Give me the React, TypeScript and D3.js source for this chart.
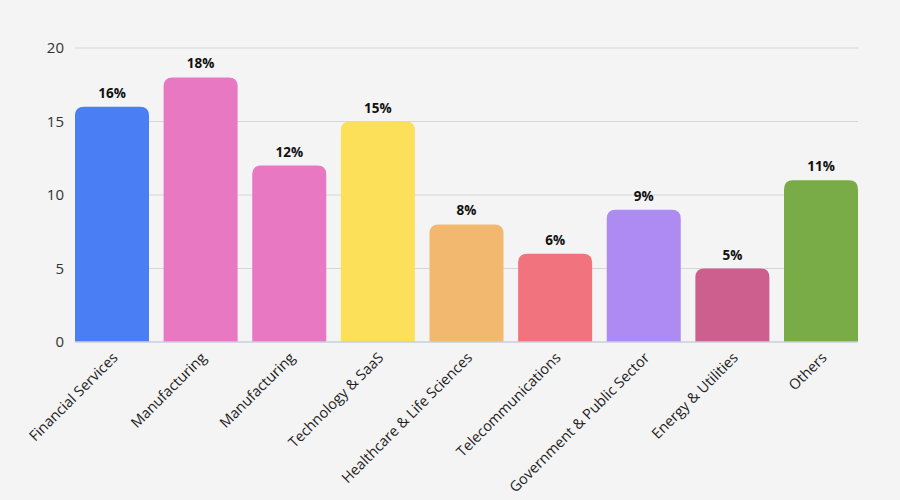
import React from "react";
import * as d3 from "d3";

const categories = [
  "Financial Services",
  "Manufacturing",
  "Manufacturing",
  "Technology & SaaS",
  "Healthcare & Life Sciences",
  "Telecommunications",
  "Government & Public Sector",
  "Energy & Utilities",
  "Others",
];
const values = [16, 18, 12, 15, 8, 6, 9, 5, 11];
const colors = ["#4a7ef4", "#e878c2", "#e878c2", "#fde05a", "#f2b870", "#f0737e", "#ad8bf2", "#cd5f8e", "#79ab47"];
const yTicks = [0, 5, 10, 15, 20];

const W = 900;
const H = 500;
const left = 75;
const right = 858;
const top = 48;
const bottom = 342;

export default function App() {
  const x = d3.scaleBand<number>().domain(d3.range(categories.length)).range([left, right]).paddingInner(0.165).paddingOuter(0);
  const y = d3.scaleLinear().domain([0, 20]).range([bottom, top]);
  const bw = x.bandwidth();
  const r = 9;
  const font = "'Open Sans', 'Noto Sans', sans-serif";

  const barPath = (x0: number, y0: number, w: number, h: number) => {
    const rr = Math.min(r, h, w / 2);
    return `M${x0},${y0 + h}V${y0 + rr}Q${x0},${y0} ${x0 + rr},${y0}H${x0 + w - rr}Q${x0 + w},${y0} ${x0 + w},${y0 + rr}V${y0 + h}Z`;
  };

  return (
    <svg width={W} height={H} style={{ position: "absolute", left: 0, top: 0, display: "block" }}>
      <rect x={0} y={0} width={W} height={H} fill="#f4f4f4" />
      {yTicks.map((t) => (
        <g key={t}>
          {t > 0 && <line x1={left} x2={right} y1={y(t)} y2={y(t)} stroke="#d6d6d6" strokeWidth={1} />}
          <text x={64} y={y(t)} dy="0.35em" textAnchor="end" fontFamily={font} fontSize={15} fill="#333">
            {t}
          </text>
        </g>
      ))}
      {values.map((v, i) => {
        const x0 = x(i)!;
        const y0 = y(v);
        return (
          <g key={i}>
            <path d={barPath(x0, y0, bw, bottom - y0)} fill={colors[i]} />
            <text x={x0 + bw / 2} y={y0 - 9} textAnchor="middle" fontFamily={font} fontWeight={700} fontSize={13.5} fill="#111">
              {v}%
            </text>
          </g>
        );
      })}
      <line x1={left} x2={right} y1={bottom} y2={bottom} stroke="#c9cfdc" strokeWidth={1.5} />
      {categories.map((c, i) => {
        const cx = x(i)! + bw / 2 + 3;
        return (
          <text
            key={i}
            transform={`translate(${cx},${bottom + 13}) rotate(-45)`}
            textAnchor="end"
            dy="0.35em"
            fontFamily={font}
            fontSize={14.5}
            fill="#222"
          >
            {c}
          </text>
        );
      })}
    </svg>
  );
}
